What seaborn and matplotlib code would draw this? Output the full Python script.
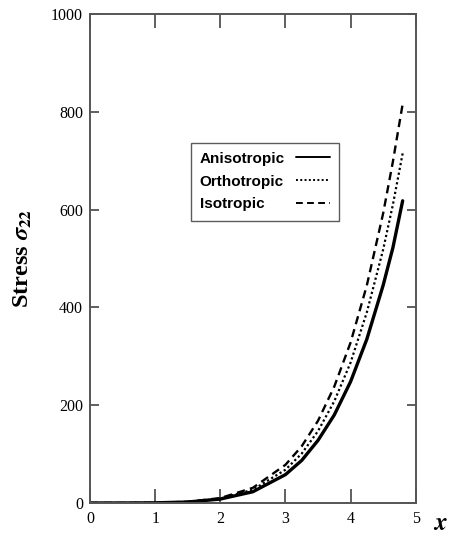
import matplotlib
matplotlib.use("Agg")
import matplotlib.pyplot as plt
import seaborn as sns
import pandas as pd

# Data
x_vals = [0, 0.5, 1, 1.5, 2, 2.5, 3, 3.25, 3.5, 3.75, 4, 4.25, 4.5, 4.65, 4.8]
anisotropic = [0, 0, 0.3, 2, 8, 23, 58, 87, 128, 180, 248, 335, 445, 522, 618]
orthotropic = [0, 0, 0.3, 2, 9, 27, 68, 101, 147, 208, 287, 390, 518, 610, 715]
isotropic = [0, 0, 0.3, 2.5, 10, 31, 78, 116, 168, 238, 328, 445, 592, 698, 816]
series_names = ["Anisotropic", "Orthotropic", "Isotropic"]
x_ticks = [0, 1, 2, 3, 4, 5]
y_ticks = [0, 200, 400, 600, 800, 1000]

sns.set_style("white")
plt.rcParams["mathtext.fontset"] = "stix"
plt.rcParams["text.color"] = "black"
plt.rcParams["axes.labelcolor"] = "black"
plt.rcParams["xtick.labelcolor"] = "black"
plt.rcParams["ytick.labelcolor"] = "black"

fig = plt.figure(figsize=(4.51, 5.36), dpi=100)
ax = fig.add_axes([0.1996, 0.0616, 0.7221, 0.9123])

df = pd.DataFrame({"x": x_vals, "Anisotropic": anisotropic,
                   "Orthotropic": orthotropic, "Isotropic": isotropic})

styles = {
    "Anisotropic": dict(linestyle="-", linewidth=2.4),
    "Orthotropic": dict(linestyle=(0, (1.0, 1.2)), linewidth=1.6),
    "Isotropic": dict(linestyle=(0, (3.5, 2.2)), linewidth=1.7),
}
for name in series_names:
    sns.lineplot(data=df, x="x", y=name, ax=ax, color="black",
                 label=name, **styles[name])

ax.set_xlim(0, 5)
ax.set_ylim(0, 1000)
ax.set_xticks(x_ticks)
ax.set_yticks(y_ticks)
ax.set_xlabel("")
ax.set_ylabel(r"Stress $\mathbfit{\sigma}_{\mathbf{22}}$", fontsize=17.5,
              fontweight="bold", family="Liberation Serif", labelpad=12,
              color="black")

for side in ["left", "right", "top", "bottom"]:
    ax.spines[side].set_color("#555555")
    ax.spines[side].set_linewidth(1.4)

ax.tick_params(axis="x", direction="in", length=10, width=1.2, color="#444444",
               top=True, bottom=True, labelsize=11.5, pad=6, labelcolor="black")
ax.tick_params(axis="y", direction="in", length=6.5, width=1.2, color="#444444",
               left=True, right=True, labelsize=11.5, pad=5, labelcolor="black")
for lab in ax.get_xticklabels() + ax.get_yticklabels():
    lab.set_family("Liberation Serif")

leg = ax.legend(loc="upper left", bbox_to_anchor=(0.309, 0.737),
                markerfirst=False, frameon=True, fancybox=False,
                prop={"family": "Liberation Sans", "weight": "bold", "size": 11},
                handlelength=2.2, handletextpad=0.75, borderpad=0.6,
                labelspacing=0.58, borderaxespad=0)
leg.get_frame().set_edgecolor("#333333")
leg.get_frame().set_linewidth(1.0)
for t in leg.get_texts():
    t.set_color("black")
for h in leg.get_lines():
    h.set_linewidth(1.4)

# left-align the label texts while keeping the handles in one column
fig.canvas.draw()
renderer = fig.canvas.get_renderer()
rows = leg._legend_handle_box.get_children()[0].get_children()
maxw = max(r.get_bbox(renderer).width for r in rows)
for r in rows:
    r.mode = "expand"
    r.width = maxw

fig.text(0.976, 0.025, r"$\mathbfit{x}$", fontsize=18, ha="center", va="center",
         color="black")

fig.savefig("out.png", dpi=100)
